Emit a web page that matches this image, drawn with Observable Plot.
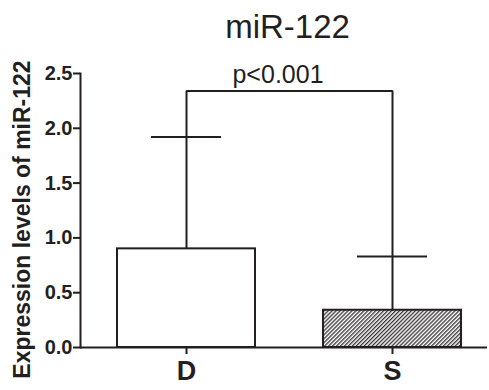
<!DOCTYPE html>
<html>
<head>
<meta charset="utf-8">
<script src="https://cdn.jsdelivr.net/npm/d3@7"></script>
<script src="https://cdn.jsdelivr.net/npm/@observablehq/plot@0.6"></script>
<style>
  body { margin: 0; background: #fff; font-family: "Liberation Sans", Arial, sans-serif; }
  #title { height: 42px; padding-top: 10px; padding-left: 86px; width: 403px; text-align: center;
           font-size: 33px; line-height: 33px; color: #231f20; }
  svg { display: block; }
</style>
</head>
<body>
<div id="title">miR-122</div>
<div id="chart"></div>
<script>
const titleText = "miR-122";
const groups = ["D", "S"];
const means = [0.90, 0.34];
const errTop = [1.92, 0.83];
const bracketY = 2.34;
const pLabel = "p<0.001";
const yTicks = [0, 0.5, 1.0, 1.5, 2.0, 2.5];
const yLabel = "Expression levels of miR-122";

const ink = "#231f20";
const data = groups.map((g, i) => ({group: g, mean: means[i], err: errTop[i]}));
const bracket = [
  {group: groups[0], y: means[0]},
  {group: groups[0], y: bracketY},
  {group: groups[1], y: bracketY},
  {group: groups[1], y: means[1]}
];

const W = 489, H = 338;
const chart = Plot.plot({
  width: W,
  height: H,
  marginLeft: 80,
  marginRight: 2,
  marginTop: 21,
  marginBottom: 43,
  style: {fontFamily: "Liberation Sans, Arial, sans-serif", color: ink, background: "#fff"},
  x: {domain: groups, range: [117, 462], paddingInner: 0.33, paddingOuter: 0, label: null},
  y: {domain: [0, 2.5], label: null},
  marks: [
    Plot.barY(data.filter(d => d.group === "D"), {x: "group", y: "mean", fill: "white", stroke: ink, strokeWidth: 2}),
    Plot.barY(data.filter(d => d.group === "S"), {x: "group", y: "mean", fill: "url(#hatch)", stroke: ink, strokeWidth: 2}),
    Plot.line(bracket, {x: "group", y: "y", stroke: ink, strokeWidth: 2, strokeLinejoin: "miter", strokeLinecap: "butt"}),
    Plot.tickY(data, {x: "group", y: "err", stroke: ink, strokeWidth: 2, insetLeft: 34, insetRight: 34}),
    Plot.text([pLabel], {y: () => bracketY, text: d => d, dx: -6, dy: -8, lineAnchor: "bottom", fontSize: 25, fill: ink}),
    Plot.axisY({ticks: yTicks, tickFormat: d3.format(".1f"), tickSize: 7, tickPadding: 1, fontSize: 20, fontWeight: "bold", stroke: ink, strokeWidth: 2, label: null}),
    Plot.axisX({tickSize: 7, tickPadding: 6, fontSize: 27, fontWeight: "bold", stroke: ink, strokeWidth: 2, label: null}),
    Plot.ruleY([0], {stroke: ink, strokeWidth: 2}),
    Plot.frame({anchor: "left", stroke: ink, strokeWidth: 2}),
    Plot.text([yLabel], {frameAnchor: "left", text: d => d, rotate: -90, dx: -58, dy: 9, fontSize: 23, fontWeight: "bold", fill: ink, textAnchor: "middle"})
  ]
});

// hatch pattern
const svg = d3.select(chart);
const defs = svg.insert("defs", ":first-child");
const pat = defs.append("pattern")
  .attr("id", "hatch").attr("patternUnits", "userSpaceOnUse")
  .attr("width", 2.8).attr("height", 2.8)
  .attr("patternTransform", "rotate(45)");
pat.append("rect").attr("width", 2.8).attr("height", 2.8).attr("fill", "white");
pat.append("line").attr("x1", 0.7).attr("y1", 0).attr("x2", 0.7).attr("y2", 2.8)
  .attr("stroke", ink).attr("stroke-width", 1.2);

document.getElementById("chart").appendChild(chart);
</script>
</body>
</html>
